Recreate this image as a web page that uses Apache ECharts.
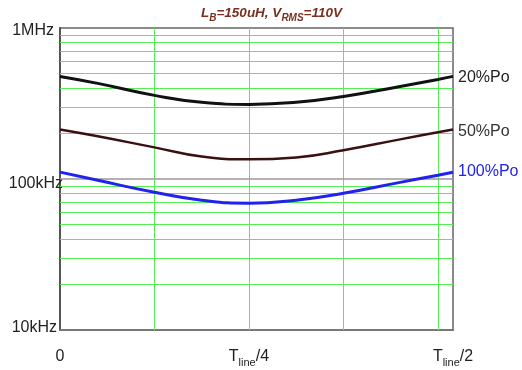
<!DOCTYPE html>
<html lang="en">
<head>
    <meta charset="UTF-8">
    <title>Switching frequency</title>
    <script src="https://cdn.jsdelivr.net/npm/echarts@6/dist/echarts.min.js"></script>
    <style>
        * { margin: 0; padding: 0; }
        body { background-color: #fff; }
        #box1 { width: 522px; height: 370px; }
    </style>
</head>
<body>
    <div id="box1"></div>
    <script>
        // x in units of T_line/8
        var xs = [0, 0.4, 1, 1.5, 2, 2.5, 3, 3.6, 4, 4.16];
        var po20 = [478000, 430000, 358000, 322000, 312000, 322000, 352000, 410000, 456000, 478000];
        var po50 = [213000, 192000, 162000, 141000, 135000, 139000, 155000, 183000, 204000, 213000];
        var po100 = [111000, 98000, 81700, 72400, 69100, 72400, 80500, 95000, 106000, 111000];
        var minorFreqs = [20000, 30000, 40000, 50000, 60000, 70000, 80000, 90000,
            200000, 300000, 400000, 500000, 600000, 700000, 800000, 900000];
        var majorFreqs = [100000];
        var vGrid = [1, 2, 3, 4];
        var font = 'Liberation Sans';

        function pairs(ys) {
            return xs.map(function (x, i) { return [x, ys[i]]; });
        }

        var green = '#55ee55';

        var option = {
            animation: false,
            title: {
                text: '{i|L}{s|B}{i|=150uH, V}{s|RMS}{i|=110V}',
                left: 196,
                top: -1,
                textStyle: {
                    rich: {
                        i: { fontFamily: font, fontStyle: 'italic', fontSize: 13.5, color: '#7a3020', lineHeight: 19 },
                        s: { fontFamily: font, fontStyle: 'italic', fontSize: 10, color: '#7a3020', lineHeight: 10, verticalAlign: 'bottom' }
                    }
                }
            },
            grid: {
                left: 60, top: 28, right: 69, bottom: 40,
                show: true, borderColor: '#666', borderWidth: 1.5,
                containLabel: false
            },
            xAxis: {
                type: 'value',
                min: 0,
                max: 4.16,
                interval: 1,
                axisLine: { lineStyle: { color: '#777', width: 2 } },
                axisTick: { show: false },
                splitLine: { show: false },
                axisLabel: {
                    margin: 16,
                    fontFamily: font,
                    fontSize: 16,
                    color: '#222',
                    showMaxLabel: true,
                    formatter: function (v) {
                        if (v === 0) return '{t|0}';
                        if (v === 2) return '{t|T}{s|line}{t|/4}';
                        if (v > 4.1) return '{t|T}{s|line}{t|/2}';
                        return '';
                    },
                    rich: {
                        t: { fontFamily: font, fontSize: 16, color: '#222', lineHeight: 22 },
                        s: { fontFamily: font, fontSize: 11, color: '#222', lineHeight: 11, verticalAlign: 'bottom' }
                    }
                }
            },
            yAxis: {
                type: 'log',
                logBase: 10,
                min: 10000,
                max: 1000000,
                axisLine: { show: true, lineStyle: { color: '#555', width: 2 } },
                axisTick: { show: false },
                splitLine: { show: false },
                axisLabel: {
                    margin: -3,
                    formatter: function (v) {
                        var e = Math.round(Math.log10(v));
                        if (e === 6) return '{m|1MHz}';
                        if (e === 5) return '{k|100kHz}';
                        return '{t|10kHz}';
                    },
                    rich: {
                        m: { fontFamily: font, fontSize: 16, color: '#222', padding: [6, 9, 0, 0] },
                        k: { fontFamily: font, fontSize: 16, color: '#222', padding: [10, 0, 0, 0] },
                        t: { fontFamily: font, fontSize: 16, color: '#222', padding: [0, 6, 4, 0] }
                    }
                }
            },
            series: [
                {
                    name: 'grid',
                    type: 'line',
                    z: 1,
                    data: [],
                    silent: true,
                    markLine: {
                        z: 1,
                        silent: true,
                        symbol: 'none',
                        label: { show: false },
                        lineStyle: { color: green, width: 1, type: 'solid', opacity: 1 },
                        data: minorFreqs.map(function (f) { return { yAxis: f }; })
                            .concat(vGrid.map(function (x) { return { xAxis: x }; }))
                    }
                },
                {
                    name: 'major',
                    type: 'line',
                    z: 1,
                    data: [],
                    silent: true,
                    markLine: {
                        z: 2,
                        silent: true,
                        symbol: 'none',
                        label: { show: false },
                        lineStyle: { color: '#999', width: 1.5, type: 'solid', opacity: 1 },
                        data: majorFreqs.map(function (f) { return { yAxis: f }; })
                    }
                },
                {
                    name: '20%Po',
                    type: 'line',
                    z: 3,
                    smooth: true,
                    showSymbol: false,
                    data: pairs(po20),
                    lineStyle: { color: '#111', width: 3 },
                    itemStyle: { color: '#111' },
                    endLabel: { show: true, formatter: '20%Po', offset: [-3, 1], fontFamily: font, fontSize: 16, color: '#222' }
                },
                {
                    name: '50%Po',
                    type: 'line',
                    z: 3,
                    smooth: true,
                    showSymbol: false,
                    data: pairs(po50),
                    lineStyle: { color: '#3a1010', width: 2.5 },
                    itemStyle: { color: '#3a1010' },
                    endLabel: { show: true, formatter: '50%Po', offset: [-3, 2], fontFamily: font, fontSize: 16, color: '#333' }
                },
                {
                    name: '100%Po',
                    type: 'line',
                    z: 3,
                    smooth: true,
                    showSymbol: false,
                    data: pairs(po100),
                    lineStyle: { color: '#2222ee', width: 3 },
                    itemStyle: { color: '#2222ee' },
                    endLabel: { show: true, formatter: '100%Po', offset: [-3, -1], fontFamily: font, fontSize: 16, color: '#2222ee' }
                }
            ]
        };
        echarts.init(document.querySelector('#box1')).setOption(option);
    </script>
</body>
</html>
